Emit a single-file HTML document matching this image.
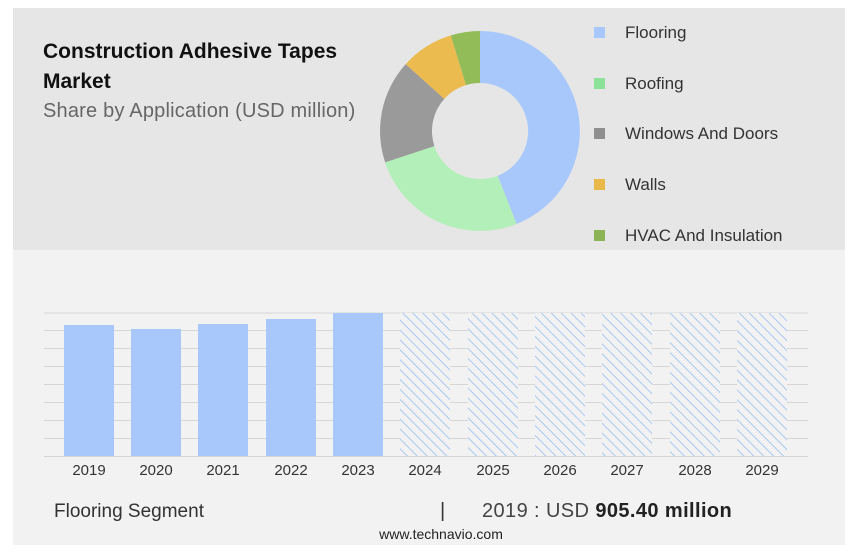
<!DOCTYPE html>
<html><head><meta charset="utf-8"><style>
body{margin:0;width:859px;height:553px;background:#fff;font-family:"Liberation Sans",sans-serif;position:relative;overflow:hidden}
.card{position:absolute;left:13px;top:8px;width:832px;height:537px;background:#f2f2f2}
.top{position:absolute;left:13px;top:8px;width:832px;height:242px;background:#e6e6e6}
.t{position:absolute;white-space:nowrap}
</style></head><body>
<div class="card"></div><div class="top"></div>
<div class="t" style="left:43px;top:37px;font-size:21px;font-weight:bold;color:#111;line-height:30px">Construction Adhesive Tapes<br>Market</div>
<div class="t" style="left:43px;top:100px;font-size:20px;color:#666;letter-spacing:0.2px">Share by Application (USD million)</div>
<svg style="position:absolute;left:0;top:0" width="859" height="553">
<path d="M480,31 A100,100 0 0 1 516.6,224 L497.6,175.7 A48,48 0 0 0 480,83Z" fill="#a8c8fb"/>
<path d="M516.6,224 A100,100 0 0 1 385.1,162.4 L434.4,146.1 A48,48 0 0 0 497.6,175.7Z" fill="#b3efb8"/>
<path d="M385.1,162.4 A100,100 0 0 1 405.7,64.1 L444.3,98.9 A48,48 0 0 0 434.4,146.1Z" fill="#9a9a9a"/>
<path d="M405.7,64.1 A100,100 0 0 1 450.8,35.4 L466,85.1 A48,48 0 0 0 444.3,98.9Z" fill="#ecbb50"/>
<path d="M450.8,35.4 A100,100 0 0 1 480,31 L480,83 A48,48 0 0 0 466,85.1Z" fill="#92bc58"/>
<rect x="594" y="27" width="11" height="11" fill="#a8c8fb"/>
<rect x="594" y="78" width="11" height="11" fill="#8de29a"/>
<rect x="594" y="128" width="11" height="11" fill="#8f8f8f"/>
<rect x="594" y="179" width="11" height="11" fill="#e8b949"/>
<rect x="594" y="230" width="11" height="11" fill="#8cb356"/>
<g font-size="17" fill="#333">
<text x="625" y="38">Flooring</text><text x="625" y="89">Roofing</text><text x="625" y="139">Windows And Doors</text><text x="625" y="190">Walls</text><text x="625" y="241">HVAC And Insulation</text>
</g>
<defs><pattern id="h" width="7" height="7" patternUnits="userSpaceOnUse" patternTransform="rotate(-45)"><rect width="7" height="7" fill="#f2f2f2"/><line x1="0" y1="0" x2="0" y2="7" stroke="#a8c8f0" stroke-width="2"/></pattern></defs>
<g stroke="#d6d6d6" stroke-width="1">
<line x1="44" x2="808" y1="313" y2="313"/><line x1="44" x2="808" y1="330.5" y2="330.5"/><line x1="44" x2="808" y1="348.5" y2="348.5"/><line x1="44" x2="808" y1="366.5" y2="366.5"/><line x1="44" x2="808" y1="384.5" y2="384.5"/><line x1="44" x2="808" y1="402.5" y2="402.5"/><line x1="44" x2="808" y1="420.5" y2="420.5"/><line x1="44" x2="808" y1="438.5" y2="438.5"/><line x1="44" x2="808" y1="456.5" y2="456.5"/>
</g>
<g fill="#a8c8fb">
<rect x="64" y="325" width="50" height="131"/><rect x="131" y="329" width="50" height="127"/><rect x="198" y="324" width="50" height="132"/><rect x="266" y="319" width="50" height="137"/><rect x="333" y="313" width="50" height="143"/>
</g>
<g fill="url(#h)">
<rect x="400" y="313" width="50" height="143"/><rect x="468" y="313" width="50" height="143"/><rect x="535" y="313" width="50" height="143"/><rect x="602" y="313" width="50" height="143"/><rect x="670" y="313" width="50" height="143"/><rect x="737" y="313" width="50" height="143"/>
</g>
<g font-size="15" fill="#333" text-anchor="middle">
<text x="89" y="475">2019</text><text x="156" y="475">2020</text><text x="223" y="475">2021</text><text x="291" y="475">2022</text><text x="358" y="475">2023</text><text x="425" y="475">2024</text><text x="493" y="475">2025</text><text x="560" y="475">2026</text><text x="627" y="475">2027</text><text x="695" y="475">2028</text><text x="762" y="475">2029</text>
</g>
<text x="54" y="517" font-size="19" fill="#333">Flooring Segment</text>
<text x="440" y="517" font-size="20" fill="#333">|</text>
<text x="482" y="517" font-size="20" fill="#444" letter-spacing="0.4">2019 : USD <tspan font-weight="bold" fill="#222">905.40 million</tspan></text>
<text x="441" y="539" font-size="14" fill="#222" text-anchor="middle">www.technavio.com</text>
</svg>
</body></html>
